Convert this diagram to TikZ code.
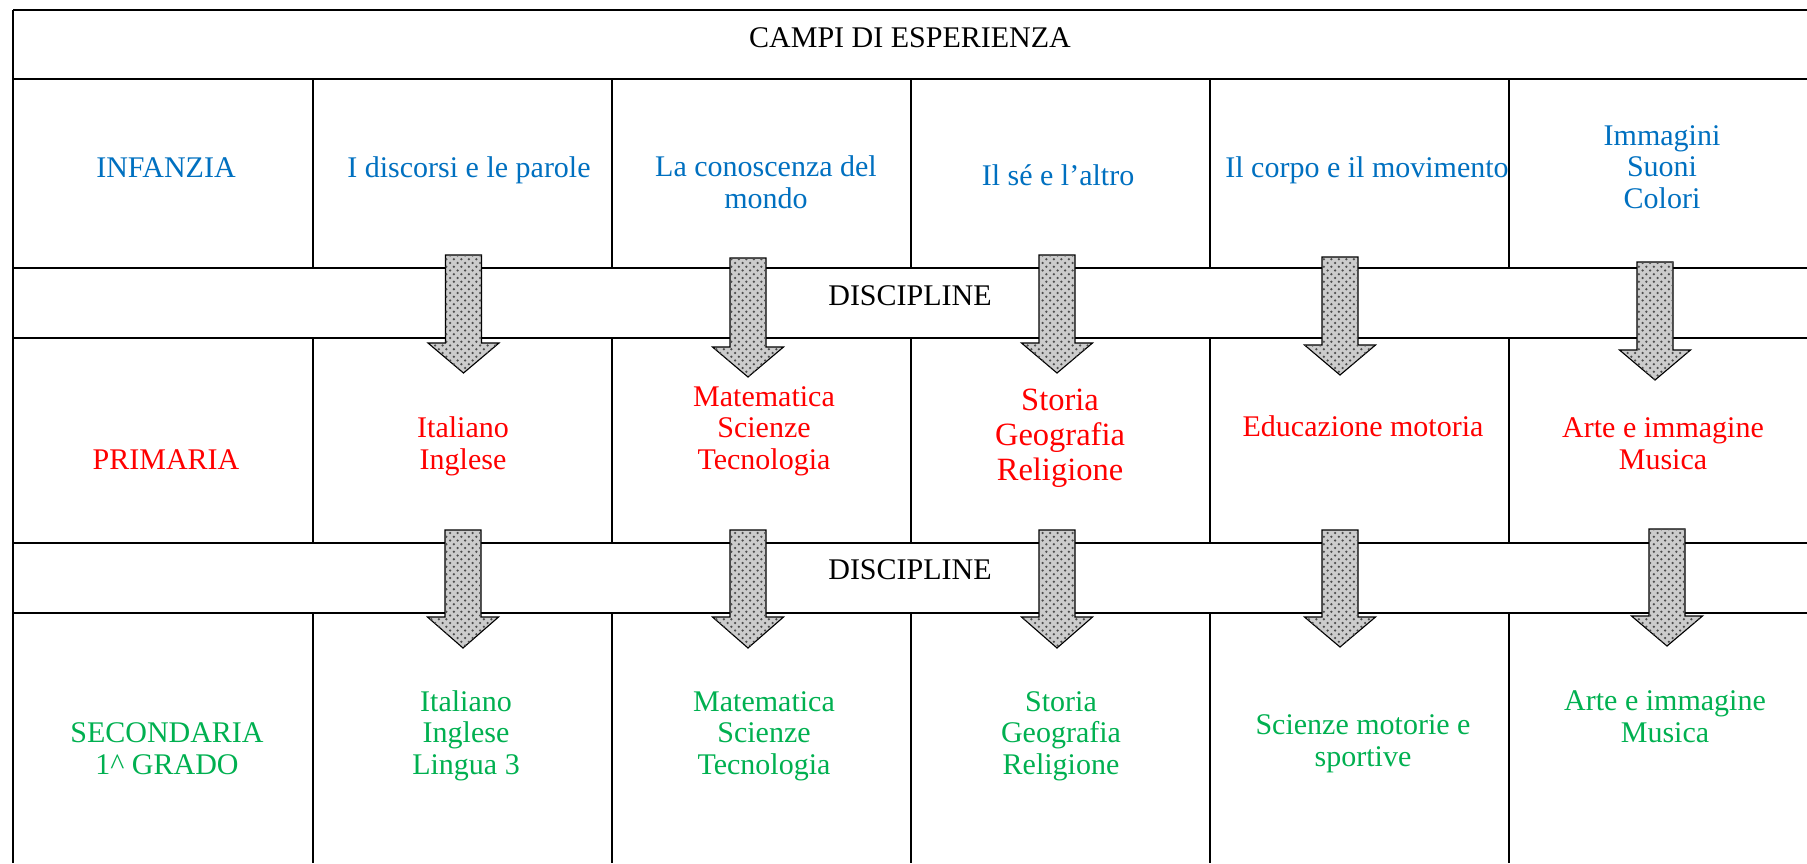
\documentclass[tikz,border=0pt]{standalone}
\usepackage{fontspec}
\setmainfont{Liberation Serif}
\usetikzlibrary{patterns}
\definecolor{infblue}{RGB}{0,112,192}
\definecolor{primred}{RGB}{255,0,0}
\definecolor{secgreen}{RGB}{0,176,80}
\tikzset{
  grid/.style={line width=0.6pt},
  bigarrow/.style={draw=black, line width=0.45pt, fill=gray!40,
    postaction={pattern=crosshatch dots, pattern color=black!70}},
  cell/.style={align=center, anchor=base, inner sep=0pt,
    font=\fontsize{12}{12.6}\selectfont},
  bigcell/.style={cell, font=\fontsize{13}{14}\selectfont}
}
\begin{document}
\begin{tikzpicture}[x=0.4pt,y=-0.4pt]
    \useasboundingbox (0,0) rectangle (1807,863);

    %% TABLE
    % Horizontal lines
    \draw[grid] (13,10) -- (1807,10);
    \draw[grid] (13,79) -- (1807,79);
    \draw[grid] (13,268) -- (1807,268);
    \draw[grid] (13,338) -- (1807,338);
    \draw[grid] (13,543) -- (1807,543);
    \draw[grid] (13,613) -- (1807,613);
    % Left border
    \draw[grid] (13,10) -- (13,863);
    % Columns (infanzia)
    \draw[grid] (313,79) -- (313,268);
    \draw[grid] (612,79) -- (612,268);
    \draw[grid] (911,79) -- (911,268);
    \draw[grid] (1210,79) -- (1210,268);
    \draw[grid] (1509,79) -- (1509,268);
    % Columns (primaria)
    \draw[grid] (313,338) -- (313,543);
    \draw[grid] (612,338) -- (612,543);
    \draw[grid] (911,338) -- (911,543);
    \draw[grid] (1210,338) -- (1210,543);
    \draw[grid] (1509,338) -- (1509,543);
    % Columns (secondaria)
    \draw[grid] (313,613) -- (313,863);
    \draw[grid] (612,613) -- (612,863);
    \draw[grid] (911,613) -- (911,863);
    \draw[grid] (1210,613) -- (1210,863);
    \draw[grid] (1509,613) -- (1509,863);

    %% ARROWS (1)
    \draw[bigarrow] (445.5,255) -- (481.5,255) -- (481.5,343) -- (499,343) -- (463.5,373) -- (428,343) -- (445.5,343) -- cycle;
    \draw[bigarrow] (730,258) -- (766,258) -- (766,347) -- (783.5,347) -- (748,377) -- (712.5,347) -- (730,347) -- cycle;
    \draw[bigarrow] (1039,255) -- (1075,255) -- (1075,343) -- (1092.5,343) -- (1057,373) -- (1021.5,343) -- (1039,343) -- cycle;
    \draw[bigarrow] (1322,257) -- (1358,257) -- (1358,345) -- (1375.5,345) -- (1340,375) -- (1304.5,345) -- (1322,345) -- cycle;
    \draw[bigarrow] (1637,262) -- (1673,262) -- (1673,350) -- (1690.5,350) -- (1655,380) -- (1619.5,350) -- (1637,350) -- cycle;

    %% ARROWS (2)
    \draw[bigarrow] (445,530) -- (481,530) -- (481,617) -- (498.5,617) -- (463,648) -- (427.5,617) -- (445,617) -- cycle;
    \draw[bigarrow] (730,530) -- (766,530) -- (766,617) -- (783.5,617) -- (748,648) -- (712.5,617) -- (730,617) -- cycle;
    \draw[bigarrow] (1039,530) -- (1075,530) -- (1075,617) -- (1092.5,617) -- (1057,648) -- (1021.5,617) -- (1039,617) -- cycle;
    \draw[bigarrow] (1322,530) -- (1358,530) -- (1358,617) -- (1375.5,617) -- (1340,647) -- (1304.5,617) -- (1322,617) -- cycle;
    \draw[bigarrow] (1649,529) -- (1685,529) -- (1685,616) -- (1702.5,616) -- (1667,646) -- (1631.5,616) -- (1649,616) -- cycle;

    %% HEADINGS
    \node[cell] (campi) at (910,47) {CAMPI DI ESPERIENZA};
    \node[cell] (disc1) at (910,305) {DISCIPLINE};
    \node[cell] (disc2) at (910,579) {DISCIPLINE};

    %% INFANZIA
    \node[cell, text=infblue] (infanzia) at (166,177) {INFANZIA};
    \node[cell, text=infblue] (inf-parole) at (469,177) {I discorsi e le parole};
    \node[cell, text=infblue] (inf-mondo) at (766,208) {La conoscenza del\\mondo};
    \node[cell, text=infblue] (inf-altro) at (1058,185) {Il sé e l’altro};
    \node[cell, text=infblue] (inf-corpo) at (1367,177) {Il corpo e il movimento};
    \node[cell, text=infblue] (inf-colori) at (1662,208) {Immagini\\Suoni\\Colori};

    %% PRIMARIA
    \node[cell, text=primred] (primaria) at (166,469) {PRIMARIA};
    \node[cell, text=primred] (pri-ita) at (463,469) {Italiano\\Inglese};
    \node[cell, text=primred] (pri-mat) at (764,469) {Matematica\\Scienze\\Tecnologia};
    \node[bigcell, text=primred] (pri-sto) at (1060,480) {Storia\\Geografia\\Religione};
    \node[cell, text=primred] (pri-mot) at (1363,436) {Educazione motoria};
    \node[cell, text=primred] (pri-arte) at (1663,469) {Arte e immagine\\Musica};

    %% SECONDARIA
    \node[cell, text=secgreen] (secondaria) at (167,774) {SECONDARIA\\1\^{} GRADO};
    \node[cell, text=secgreen] (sec-ita) at (466,774) {Italiano\\Inglese\\Lingua 3};
    \node[cell, text=secgreen] (sec-mat) at (764,774) {Matematica\\Scienze\\Tecnologia};
    \node[cell, text=secgreen] (sec-sto) at (1061,774) {Storia\\Geografia\\Religione};
    \node[cell, text=secgreen] (sec-mot) at (1363,766) {Scienze motorie e\\sportive};
    \node[cell, text=secgreen] (sec-arte) at (1665,742) {Arte e immagine\\Musica};
\end{tikzpicture}
\end{document}
